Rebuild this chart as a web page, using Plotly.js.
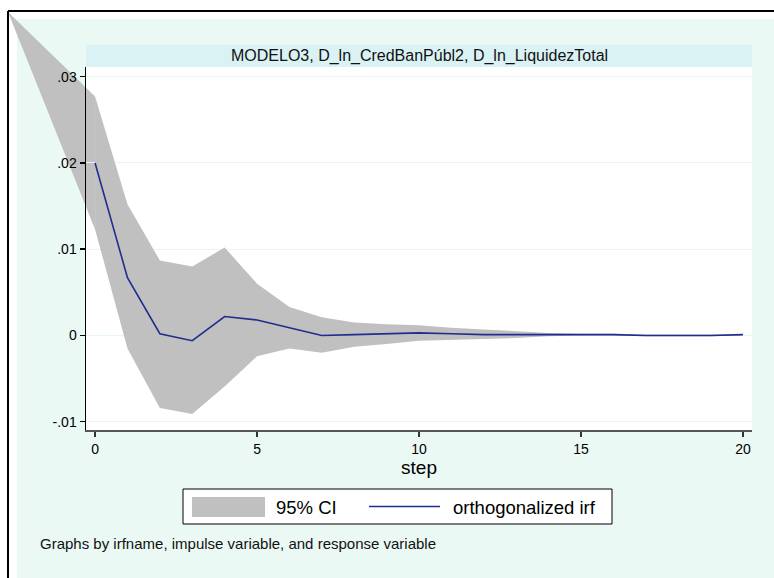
<!DOCTYPE html>
<html><head><meta charset="utf-8">
<script src="https://cdn.plot.ly/plotly-3.0.1.min.js"></script>
<style>html,body{margin:0;padding:0;background:#fff}#chart{width:774px;height:578px}</style>
</head><body><div id="chart"></div>
<script>
// ---- data ----
const steps = [0,1,2,3,4,5,6,7,8,9,10,11,12,13,14,15,16,17,18,19,20];
const irf = [0.0200, 0.0067, 0.0002, -0.0006, 0.0022, 0.0018, 0.0009, 0.0000, 0.0001, 0.0002, 0.0003, 0.0002, 0.0001, 0.0001, 0.0001, 0.0001, 0.0001, 0.0000, 0.0000, 0.0000, 0.0001];
const ciUpper = [0.0277, 0.0152, 0.0087, 0.0080, 0.0102, 0.0060, 0.0033, 0.0021, 0.0015, 0.0013, 0.0012, 0.0009, 0.0007, 0.0005, 0.0003, 0.0002, 0.0002, 0.0001, 0.0001, 0.0001, 0.0001];
const ciLower = [0.0123, -0.0015, -0.0084, -0.0091, -0.0059, -0.0024, -0.0015, -0.0020, -0.0013, -0.0010, -0.0006, -0.0005, -0.0004, -0.0003, -0.0001, 0.0000, 0.0000, -0.0001, -0.0001, -0.0001, 0.0000];
const yTickVals = [-0.01, 0, 0.01, 0.02, 0.03];
const yTickText = ['-.01', '0', '.01', '.02', '.03'];
const xTickVals = [0, 5, 10, 15, 20];
const chartTitle = 'MODELO3, D_ln_CredBanPúbl2, D_ln_LiquidezTotal';
const xTitle = 'step';
const legendLabels = ['95% CI', 'orthogonalized irf'];
const noteText = 'Graphs by irfname, impulse variable, and response variable';

// ---- layout geometry (pixels) ----
const W = 774, H = 578;
const plotL = 86, plotR = 752, plotT = 67, plotB = 430;
const cornerX = 8, cornerY = 12;
const xRange = [-0.28, 20.28];
const yRange = [-0.010957, 0.031125];
const FONT = 'Liberation Sans, Arial, Helvetica, sans-serif';
const GREY = '#C0C0C0', NAVY = '#1f2d8f', MINT = '#EBF9F5', STRIP = '#DBF2F5';

const px = x => x / W;
const py = y => 1 - y / H;

// extended axes (same scale) for the band's out-of-plot spill to the graph origin
const sx = (plotR - plotL) / (xRange[1] - xRange[0]);
const sy = (plotB - plotT) / (yRange[1] - yRange[0]);
const xA = [xRange[0] - (plotL - cornerX) / sx, xRange[1] + (W - plotR) / sx];
const yA = [yRange[0] - (H - plotB) / sy, yRange[1] + (plotT - cornerY) / sy];

const traces = [
  { // spill of CI polygon towards graph origin (drawn unclipped on full-size axes)
    x: [xA[0], steps[0], steps[0]],
    y: [yA[1], ciUpper[0], ciLower[0]],
    xaxis: 'x', yaxis: 'y', type: 'scatter', mode: 'lines',
    fill: 'toself', fillcolor: GREY, line: {width: 0, color: GREY},
    hoverinfo: 'skip', showlegend: false
  },
  {
    x: steps.concat(steps.slice().reverse()),
    y: ciUpper.concat(ciLower.slice().reverse()),
    xaxis: 'x2', yaxis: 'y2', type: 'scatter', mode: 'lines',
    fill: 'toself', fillcolor: GREY, line: {width: 0, color: GREY},
    name: legendLabels[0], showlegend: false
  },
  {
    x: steps, y: irf,
    xaxis: 'x2', yaxis: 'y2', type: 'scatter', mode: 'lines',
    line: {color: NAVY, width: 1.6},
    name: legendLabels[1], showlegend: false
  }
];

const layout = {
  width: W, height: H,
  margin: {l: 0, r: 0, t: 0, b: 0, pad: 0},
  paper_bgcolor: '#ffffff',
  plot_bgcolor: 'rgba(0,0,0,0)',
  showlegend: false,
  font: {family: FONT, color: '#000'},
  xaxis: {domain: [px(cornerX), 1], range: xA, visible: false, fixedrange: true, anchor: 'y'},
  yaxis: {domain: [0, py(cornerY)], range: yA, visible: false, fixedrange: true, anchor: 'x'},
  xaxis2: {
    domain: [px(plotL), px(plotR)], range: xRange, anchor: 'y2',
    tickvals: xTickVals, ticks: 'outside', ticklen: 5, tickwidth: 1.5, tickcolor: '#333',
    showline: true, linecolor: '#555', linewidth: 2, showgrid: false, zeroline: false,
    tickfont: {family: FONT, size: 14, color: '#000'},
    title: {text: xTitle, font: {family: FONT, size: 19, color: '#000'}, standoff: 4}
  },
  yaxis2: {
    domain: [py(plotB), py(plotT)], range: yRange, anchor: 'x2',
    tickvals: yTickVals, ticktext: yTickText, ticks: 'outside', ticklen: 5, tickwidth: 1.5, tickcolor: '#000',
    showline: true, linecolor: '#000', linewidth: 1.5,
    showgrid: true, gridcolor: '#E6F6F1', gridwidth: 1, zeroline: false,
    tickfont: {family: FONT, size: 14, color: '#000'}
  },
  shapes: [
    {type: 'rect', xref: 'paper', yref: 'paper', x0: px(17), x1: 1, y0: 0, y1: py(19), fillcolor: MINT, line: {width: 0}, layer: 'below'},
    {type: 'rect', xref: 'paper', yref: 'paper', x0: px(plotL), x1: px(plotR), y0: py(plotB), y1: py(plotT), fillcolor: '#ffffff', line: {width: 0}, layer: 'below'},
    {type: 'rect', xref: 'paper', yref: 'paper', x0: px(plotL), x1: px(plotR), y0: py(plotT), y1: py(45), fillcolor: STRIP, line: {width: 0}, layer: 'below'},
    {type: 'line', xref: 'paper', yref: 'paper', x0: px(8), x1: 1, y0: py(11), y1: py(11), line: {color: '#000', width: 2}, layer: 'above'},
    {type: 'line', xref: 'paper', yref: 'paper', x0: px(8), x1: px(8), y0: py(11), y1: 0, line: {color: '#000', width: 2}, layer: 'above'},
    // legend
    {type: 'rect', xref: 'paper', yref: 'paper', x0: px(183), x1: px(612), y0: py(524), y1: py(489), fillcolor: '#ffffff', line: {color: '#000', width: 1}, layer: 'above'},
    {type: 'rect', xref: 'paper', yref: 'paper', x0: px(192), x1: px(265), y0: py(517), y1: py(497), fillcolor: GREY, line: {width: 0}, layer: 'above'},
    {type: 'line', xref: 'paper', yref: 'paper', x0: px(369), x1: px(440), y0: py(506.5), y1: py(506.5), line: {color: NAVY, width: 1.6}, layer: 'above'}
  ],
  annotations: [
    {text: chartTitle, xref: 'paper', yref: 'paper', x: px((plotL + plotR) / 2), y: py(56), xanchor: 'center', yanchor: 'middle', showarrow: false, font: {family: FONT, size: 16, color: '#111'}},
    {text: legendLabels[0], xref: 'paper', yref: 'paper', x: px(274), y: py(507), xanchor: 'left', yanchor: 'middle', showarrow: false, font: {family: FONT, size: 18.5, color: '#000'}},
    {text: legendLabels[1], xref: 'paper', yref: 'paper', x: px(451), y: py(507), xanchor: 'left', yanchor: 'middle', showarrow: false, font: {family: FONT, size: 18.5, color: '#000'}},
    {text: noteText, xref: 'paper', yref: 'paper', x: px(38), y: py(543), xanchor: 'left', yanchor: 'middle', showarrow: false, font: {family: FONT, size: 15, color: '#111'}}
  ]
};

Plotly.newPlot('chart', traces, layout, {staticPlot: true, displayModeBar: false});
</script>
</body></html>
